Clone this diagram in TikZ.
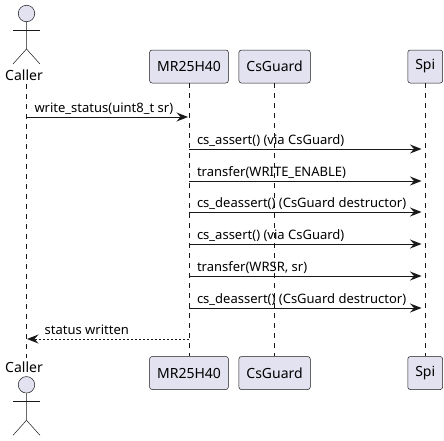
\documentclass[tikz,border=0pt]{standalone}
\usepackage{fontspec}
\setmainfont{Noto Sans}
\usetikzlibrary{positioning,arrows.meta,calc}
\definecolor{partfill}{HTML}{E2E2F0}
\definecolor{partline}{HTML}{181818}

\begin{document}
\begin{tikzpicture}[x=1pt, y=-1pt, font=\fontsize{13}{15}\selectfont,
  part/.style={draw=partline, fill=partfill, rounded corners=2.5pt, line width=.5pt, inner xsep=7.5pt, inner ysep=0pt, minimum height=33pt, font=\fontsize{14}{16}\selectfont},
  who/.style={inner sep=0pt, font=\fontsize{14}{16}\selectfont},
  life/.style={draw=partline, line width=.5pt, dash pattern=on 5pt off 5pt},
  head/.style={circle, draw=partline, fill=partfill, line width=.5pt, inner sep=0pt, minimum size=16.5pt},
  msg/.style={-{Stealth[length=11.5pt, width=9pt, inset=4pt]}, draw=partline, line width=1pt},
  ret/.style={msg, dash pattern=on 2pt off 2pt},
  lab/.style={anchor=base west, inner sep=0pt},
  limb/.style={draw=partline, line width=.5pt}]
\useasboundingbox (0,0) rectangle (444,440);
% participants
\node[part] (mr) at (189,66.5) {MR25H40};
\node[part, right=10pt of mr] (cs) {CsGuard};
\node[part, right=97pt of cs] (spi) {Spi};
\node[part, below=273pt of mr] (mrb) {MR25H40};
\node[part, below=273pt of cs] (csb) {CsGuard};
\node[part, below=273pt of spi] (spib) {Spi};
% actors
\node[who] (caller) at (24,75) {Caller};
\node[who] (callerb) at (24,367) {Caller};
\node[head] (hd) at (26.5,13.5) {};
\node[head] (hdb) at (26.5,384.8) {};
\foreach \h in {hd,hdb} {
  \draw[limb] (\h.south) -- ++(0,27) coordinate (\h c) -- ++(-13.5,15);
  \draw[limb] (\h c) -- ++(13.5,15);
  \draw[limb] ($(\h.south)+(-13.5,8)$) -- ++(27,0);
}
% lifelines
\coordinate (t) at (26.5,84);
\coordinate (b) at (26.5,358);
\draw[life] (t) -- (b);
\foreach \x/\y in {mr/mrb,cs/csb,spi/spib} {\draw[life] (\x) -- (\y);}
% messages
\coordinate (a1) at (26.5,117);
\coordinate (a2) at (188,117);
\draw[msg] (a1) -- (a2) node[lab, pos=0, xshift=7.5pt, yshift=5pt] (l0) {write\_status(uint8\_t sr)};
\foreach \i/\y/\txt in {1/149/{cs\_assert() (via CsGuard)},2/181/{transfer(WRITE\_ENABLE)},3/212/{cs\_deassert() (CsGuard destructor)},4/244/{cs\_assert() (via CsGuard)},5/276/{transfer(WRSR, sr)},6/308/{cs\_deassert() (CsGuard destructor)}} {
  \coordinate (f\i) at (189,\y);
  \coordinate (g\i) at (421.5,\y);
  \draw[msg] (f\i) -- (g\i) node[lab, pos=0, xshift=7.5pt, yshift=5pt] (l\i) {\txt};
}
\coordinate (r1) at (188.5,339);
\coordinate (r2) at (27,339);
\draw[ret] (r1) -- (r2);
\node[lab] (l7) at (44.5,334) {status written};
\end{tikzpicture}
\end{document}
